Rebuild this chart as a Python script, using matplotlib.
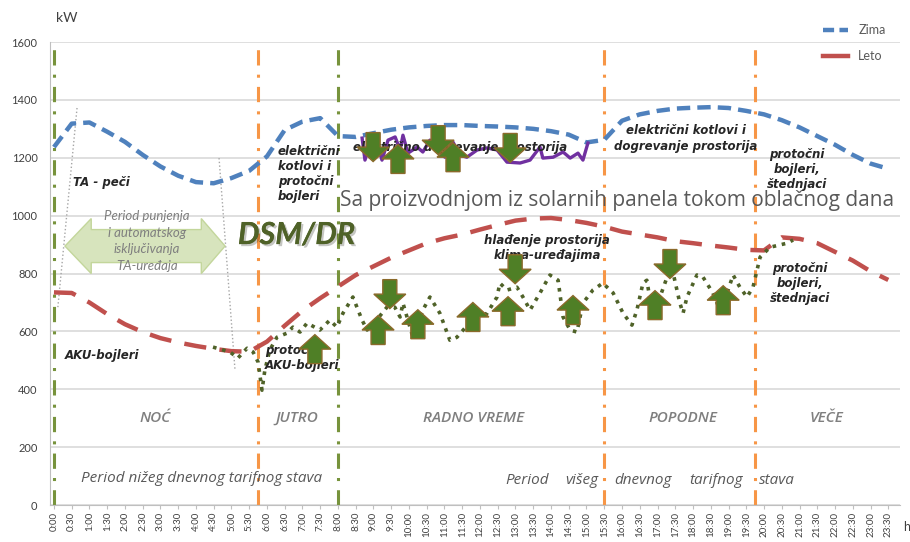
import numpy as np
import matplotlib.pyplot as plt
from matplotlib.patches import Polygon
from matplotlib.lines import Line2D
import matplotlib.patheffects as pe

plt.rcParams['font.family'] = ['Lato', 'DejaVu Sans']

# half-hour categories
time_labels = ["0:00", "0:30", "1:00", "1:30", "2:00", "2:30", "3:00", "3:30",
               "4:00", "4:30", "5:00", "5:30", "6:00", "6:30", "7:00", "7:30",
               "8:00", "8:30", "9:00", "9:30", "10:00", "10:30", "11:00", "11:30",
               "12:00", "12:30", "13:00", "13:30", "14:00", "14:30", "15:00", "15:30",
               "16:00", "16:30", "17:00", "17:30", "18:00", "18:30", "19:00", "19:30",
               "20:00", "20:30", "21:00", "21:30", "22:00", "22:30", "23:00", "23:30"]
hours = np.arange(len(time_labels)) * 0.5

zima = [1237, 1318, 1322, 1290, 1255, 1210, 1170, 1138, 1116, 1112, 1130, 1155,
        1205, 1296, 1325, 1337, 1275, 1272, 1285, 1297, 1305, 1310, 1313, 1313,
        1310, 1308, 1305, 1300, 1292, 1280, 1253, 1262, 1328, 1350, 1362, 1370,
        1373, 1375, 1372, 1362, 1350, 1330, 1305, 1275, 1245, 1210, 1180, 1162]

leto = [735, 733, 700, 660, 625, 598, 577, 562, 550, 540, 532, 530,
        565, 620, 672, 715, 755, 795, 825, 855, 880, 905, 922, 935,
        952, 968, 983, 990, 992, 985, 975, 962, 945, 935, 925, 912,
        905, 897, 890, 882, 880, 925, 920, 905, 875, 845, 808, 778]

# consumption shaped by DSM/DR (green dotted)
dsm_t = [4.48, 4.96, 5.18, 5.44, 5.61, 5.75, 5.86, 5.94, 6.08, 6.28, 6.56, 6.73,
         6.93, 7.13, 7.49, 7.77, 7.97, 8.14, 8.42, 8.68, 8.82, 9.13, 9.38, 9.6,
         9.75, 9.83, 10.11, 10.39, 10.59, 10.87, 11.15, 11.35, 11.72, 12.2, 12.48,
         12.56, 12.76, 13.04, 13.21, 13.41, 13.69, 13.97, 14.2, 14.34, 14.54, 14.73,
         14.9, 15.18, 15.46, 15.75, 16.03, 16.28, 16.42, 16.59, 16.7, 16.87, 17.07,
         17.27, 17.44, 17.63, 17.72, 17.83, 18.11, 18.28, 18.56, 18.76, 18.96,
         19.13, 19.32, 19.52, 19.69, 19.89, 20.17, 20.65, 20.82]
dsm_kw = [546, 529, 508, 542, 529, 494, 397, 466, 536, 580, 594, 615,
          598, 629, 605, 639, 615, 663, 719, 639, 605, 646, 684, 684,
          650, 698, 580, 674, 719, 663, 570, 580, 632, 663, 719,
          767, 743, 753, 719, 674, 733, 795, 777, 650, 605, 598,
          698, 743, 767, 733, 663, 622, 674, 767, 777, 650, 719,
          788, 802, 698, 663, 719, 795, 788, 733, 674, 733,
          795, 753, 719, 753, 857, 891, 905, 916]

# solar production on a cloudy day (purple)
solar_t = [8.68, 8.76, 8.90, 9.04, 9.24, 9.41, 9.61, 9.75, 9.83, 9.97, 10.23,
           10.39, 10.59, 10.79, 11.01, 11.24, 11.44, 11.63, 11.92, 12.2, 12.48,
           12.76, 13.13, 13.41, 13.69, 13.77, 14.06, 14.34, 14.54, 14.76, 14.90, 15.04]
solar_kw = [1268, 1192, 1251, 1272, 1192, 1261, 1272, 1227, 1278, 1216, 1237,
            1220, 1261, 1237, 1202, 1254, 1209, 1202, 1227, 1234, 1227,
            1185, 1182, 1192, 1237, 1199, 1202, 1220, 1199, 1216, 1192, 1251]

# period boundaries
vlines_t = [0, 5.75, 8, 15.5, 19.75]
vlines_c = ["#77933C", "#F79646", "#77933C", "#F79646", "#F79646"]

# DSM block arrows: (time, kW, up?)
arrows = [(8.99, 1237, False), (9.69, 1196, True), (10.82, 1261, False),
          (11.24, 1202, True), (12.85, 1234, False),
          (7.35, 539, True), (9.46, 729, False), (9.13, 605, True),
          (10.25, 625, True), (11.80, 650, True), (12.99, 815, False),
          (12.79, 670, True), (14.62, 674, True), (17.35, 833, False),
          (16.93, 691, True), (18.85, 708, True)]

periods = ["NOĆ", "JUTRO", "RADNO VREME", "POPODNE", "VEČE"]
periods_t = [2.85, 6.85, 11.83, 17.72, 21.77]

fig = plt.figure(figsize=(9.1, 5.42), dpi=100)
ax = fig.add_axes([0.055, 0.068, 0.934, 0.8545])

ax.set_xlim(-0.11, 23.83)
ax.set_ylim(0, 1600)
ax.set_yticks(range(0, 1601, 200))
ax.set_xticks(hours)
ax.set_xticklabels(time_labels, rotation=90, fontsize=7, color="#404040")
ax.tick_params(axis='y', labelsize=8, colors="#404040", length=0, pad=9)
ax.tick_params(axis='x', length=3, color="#BFBFBF", pad=2)
ax.grid(axis='y', color="#D9D9D9", lw=1.2)
ax.set_axisbelow(True)
for s in ["top", "right"]:
    ax.spines[s].set_visible(False)
ax.spines["left"].set_color("#BFBFBF")
ax.spines["bottom"].set_color("#BFBFBF")

for t, c in zip(vlines_t, vlines_c):
    ax.axvline(t, color=c, lw=2.2, linestyle=(0, (5, 3, 1, 3)), zorder=2)

# helper gray dotted lines
ax.plot([0.65, 0.11], [1372, 684], color="#A6A6A6", lw=1, ls=":", zorder=2)
ax.plot([4.65, 5.10], [1199, 466], color="#A6A6A6", lw=1, ls=":", zorder=2)

ax.plot(hours, zima, color="#4F81BD", lw=3.2, ls=(0, (3, 1.6)), zorder=3)
ax.plot(hours, leto, color="#C0504D", lw=3.2, ls=(0, (5, 3)), zorder=3)
ax.plot(dsm_t, dsm_kw, color="#4F6228", lw=2.6, ls=(0, (1, 1.6)), zorder=4)
ax.plot(solar_t, solar_kw, color="#7030A0", lw=2.4, zorder=4)

# light green double arrow
cy, hh, bh = 895, 95, 57
dbl = [(0.31, cy), (1.05, cy + hh), (1.05, cy + bh), (4.15, cy + bh), (4.15, cy + hh),
       (4.82, cy), (4.15, cy - hh), (4.15, cy - bh), (1.05, cy - bh), (1.05, cy - hh)]
ax.add_patch(Polygon(dbl, closed=True, fc="#D7E4BD", ec="#C3D69B", lw=1, zorder=2))
ax.text(2.62, 912, "Period punjenja\ni automatskog\nisključivanja\nTA-uređaja",
        ha="center", va="center", fontsize=9.5, style="italic", color="#7F7F7F",
        linespacing=1.45, zorder=3)


def block_arrow(cx, cy, up, w=0.9, h=100):
    hw, sw, hh = w / 2, w * 0.22, h * 0.5
    s = 1 if up else -1
    tip, base = cy + s * h / 2, cy - s * h / 2
    hb = tip - s * hh
    pts = [(cx, tip), (cx + hw, hb), (cx + sw, hb), (cx + sw, base),
           (cx - sw, base), (cx - sw, hb), (cx - hw, hb)]
    ax.add_patch(Polygon(pts, closed=True, fc="#4F7F26", ec="#8B6A2B", lw=1, zorder=6))


# text annotations
bi = dict(style="italic", weight="bold", color="#262626", fontsize=8.5,
          family=["DejaVu Sans"])
ax.text(0.54, 1116, "TA - peči", ha="left", va="center", **bi)
ax.text(6.31, 1144, "električni\nkotlovi i\nprotočni\nbojleri", ha="left", va="center",
        linespacing=1.2, **bi)
ax.text(8.42, 1234, "električno dogrevanje prostorija", ha="left", va="center", zorder=5, **bi)
ax.text(17.8, 1268, "električni kotlovi i\ndogrevanje prostorija", ha="center",
        va="center", linespacing=1.3, **bi)
ax.text(20.93, 1158, "protočni\nbojleri,\nštednjaci", ha="center", va="center",
        linespacing=1.2, **bi)
ax.text(13.89, 888, "hlađenje prostorija\nklima-uređajima", ha="center", va="center",
        linespacing=1.2, zorder=5, **bi)
ax.text(21.0, 767, "protočni\nbojleri,\nštednjaci", ha="center", va="center",
        linespacing=1.2, **bi)
ax.text(0.31, 518, "AKU-bojleri", ha="left", va="center", **bi)
ax.text(5.94, 508, "protočni\nAKU-bojleri", ha="left", va="center", linespacing=1.2,
        zorder=5, **bi)

ax.text(8.06, 1054, "Sa proizvodnjom iz solarnih panela tokom oblačnog dana",
        ha="left", va="center", fontsize=15, color="#595959", zorder=5,
        family=["Open Sans", "DejaVu Sans"])
ax.text(5.18, 933, "DSM/DR", ha="left", va="center", fontsize=22, weight="bold",
        style="italic", color="#4F6228", zorder=5,
        path_effects=[pe.withSimplePatchShadow(offset=(1.5, -1.5), alpha=0.25), pe.Normal()])

for name, t in zip(periods, periods_t):
    ax.text(t, 301, name, ha="center", va="center", fontsize=11, style="italic",
            color="#7F7F7F", family=["Open Sans", "DejaVu Sans"], weight="semibold")

it = dict(style="italic", color="#595959", fontsize=11, va="center", ha="center",
          family=["Open Sans", "DejaVu Sans"])
ax.text(4.17, 93, "Period nižeg dnevnog tarifnog stava", **it)
for word, t in zip(["Period", "višeg", "dnevnog", "tarifnog", "stava"],
                   [13.32, 14.87, 16.59, 18.65, 20.37]):
    ax.text(t, 86, word, **it)

for cx, cy, up in arrows:
    block_arrow(cx, cy, up)

fig.text(56 / 910, 1 - 18 / 542, "kW", fontsize=10, color="#404040", va="center")
fig.text(903 / 910, 1 - 527 / 542, "h", fontsize=9, color="#404040", va="center")

handles = [Line2D([], [], color="#4F81BD", lw=3.2, ls=(0, (2.5, 1.2))),
           Line2D([], [], color="#C0504D", lw=3.2)]
fig.legend(handles, ["Zima", "Leto"], loc="upper left", bbox_to_anchor=(812 / 910, 1 - 13 / 542),
           frameon=False, fontsize=9, handlelength=2.0, labelspacing=1.1,
           labelcolor="#595959")

fig.savefig("out.png", dpi=100)
